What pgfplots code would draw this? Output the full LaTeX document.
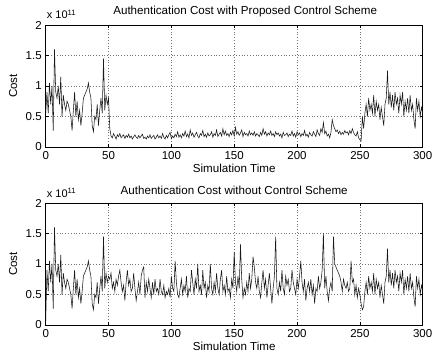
\documentclass[border=0pt]{standalone}
\usepackage{pgfplots}
\pgfplotsset{compat=1.18}
\usepackage{pgfplotstable}
\usepackage{fontspec}
\setmainfont{Liberation Sans}

\pgfplotstableread{
y
0.05
0.9
0.55
1.05
0.7
1.0
0.27
1.6
0.9
0.8
1.0
0.7
1.15
0.5
0.85
0.7
0.6
0.75
0.7
0.6
0.5
0.27
0.6
0.9
0.5
0.75
0.45
0.6
0.35
0.55
0.8
0.85
0.9
0.95
1.05
0.9
0.8
0.35
0.25
0.5
0.45
0.7
0.35
0.6
0.8
0.55
1.45
0.6
0.85
0.7
0.8
0.75
0.85
0.6
0.7
0.55
0.75
0.65
0.8
0.9
0.7
0.55
0.65
0.4
0.7
0.9
0.65
0.75
0.55
0.6
0.85
0.6
0.4
0.55
0.7
0.5
0.8
0.9
0.95
0.45
0.7
0.55
0.75
0.6
0.45
0.7
0.5
0.75
0.55
0.6
0.5
0.75
0.55
0.5
0.65
0.45
0.55
0.5
0.6
0.45
0.8
0.6
0.55
1.05
0.7
0.5
0.45
0.6
0.75
0.5
0.65
0.55
0.8
0.45
0.6
0.55
0.9
0.7
0.5
0.75
0.6
1.0
0.55
0.65
0.5
0.9
0.6
0.7
0.45
0.65
0.55
1.0
0.6
0.5
0.7
0.55
0.85
0.6
0.5
0.75
0.9
0.55
0.65
0.5
0.8
0.55
0.6
0.45
0.75
0.6
1.2
0.7
0.55
0.8
0.6
1.32
0.75
0.45
0.6
0.5
0.7
0.55
0.85
0.6
0.75
1.12
0.95
0.7
0.6
0.8
0.55
0.45
0.7
0.9
0.6
0.75
0.45
0.65
0.85
0.6
0.35
0.6
0.8
1.45
0.6
0.5
0.7
0.55
0.9
0.6
0.5
0.8
0.65
0.75
0.55
0.6
0.9
0.7
0.6
0.5
0.75
0.6
0.8
1.05
0.7
0.55
0.75
0.4
0.6
0.7
0.55
0.75
0.5
0.65
0.35
0.6
0.55
0.8
0.6
0.7
0.9
1.5
0.6
0.8
0.55
0.4
0.6
0.7
0.55
1.45
1.0
0.95
0.9
0.85
0.8
0.7
0.55
0.75
0.65
0.6
0.7
0.55
0.6
1.05
0.7
0.75
0.5
0.65
0.45
0.6
0.5
0.35
0.25
0.3
0.55
0.7
0.5
0.8
0.6
0.7
0.55
0.85
0.5
0.75
0.6
0.7
0.45
0.65
0.5
0.35
0.7
0.8
1.25
0.7
0.9
0.65
0.85
0.6
0.9
0.7
0.8
0.55
0.85
0.7
0.9
0.5
0.75
0.6
0.8
0.55
0.85
0.6
0.7
0.45
0.3
0.8
0.6
0.75
0.5
0.65
0.55
}\without

\pgfplotstableread{
y
0.55
0.9
0.55
1.05
0.7
1.0
0.27
1.6
0.9
0.8
1.0
0.7
1.15
0.5
0.85
0.7
0.6
0.75
0.7
0.6
0.5
0.27
0.6
0.9
0.5
0.75
0.45
0.6
0.35
0.55
0.8
0.85
0.9
0.95
1.05
0.9
0.8
0.35
0.25
0.5
0.45
0.7
0.35
0.6
0.8
0.55
1.45
0.6
0.85
0.7
0.8
0.3
0.18
0.15
0.22
0.18
0.13
0.2
0.17
0.22
0.15
0.18
0.2
0.14
0.19
0.16
0.21
0.15
0.18
0.13
0.17
0.2
0.16
0.14
0.19
0.15
0.18
0.21
0.14
0.16
0.13
0.18
0.15
0.2
0.14
0.17
0.19
0.13
0.16
0.2
0.15
0.18
0.14
0.22
0.16
0.13
0.19
0.15
0.2
0.24
0.14
0.18
0.15
0.21
0.17
0.25
0.16
0.2
0.15
0.22
0.18
0.26
0.17
0.21
0.15
0.28
0.19
0.23
0.16
0.2
0.24
0.18
0.15
0.22
0.19
0.27
0.17
0.21
0.16
0.23
0.18
0.2
0.25
0.16
0.22
0.19
0.28
0.17
0.21
0.24
0.18
0.3
0.2
0.26
0.19
0.22
0.17
0.24
0.2
0.27
0.18
0.32
0.21
0.25
0.19
0.23
0.28
0.17
0.24
0.2
0.22
0.18
0.26
0.2
0.23
0.19
0.25
0.18
0.22
0.2
0.17
0.24
0.19
0.3
0.21
0.25
0.18
0.23
0.2
0.26
0.19
0.22
0.17
0.25
0.2
0.23
0.18
0.21
0.15
0.24
0.19
0.2
0.23
0.17
0.21
0.19
0.26
0.18
0.22
0.16
0.25
0.2
0.23
0.17
0.22
0.19
0.27
0.18
0.21
0.16
0.24
0.2
0.18
0.25
0.21
0.17
0.28
0.22
0.19
0.3
0.24
0.4
0.22
0.26
0.18
0.21
0.15
0.24
0.45
0.35
0.3
0.25
0.28
0.22
0.26
0.2
0.24
0.21
0.27
0.23
0.25
0.2
0.27
0.22
0.3
0.24
0.2
0.18
0.25
0.15
0.12
0.1
0.5
0.3
0.55
0.7
0.5
0.8
0.6
0.7
0.55
0.85
0.5
0.75
0.6
0.7
0.45
0.65
0.5
0.35
0.7
0.8
1.25
0.7
0.9
0.65
0.85
0.6
0.9
0.7
0.8
0.55
0.85
0.7
0.9
0.5
0.75
0.6
0.8
0.55
0.85
0.6
0.7
0.45
0.3
0.8
0.6
0.75
0.5
0.65
0.55
}\withctrl

\pgfplotsset{
  mystyle/.style={
    scale only axis,
    width=377pt, height=122pt,
    anchor=south west,
    clip mode=individual,
    xmin=0, xmax=300, ymin=0, ymax=2,
    xtick={0,50,100,150,200,250,300},
    xticklabels={0,50,100,150,200,250,300},
    ytick={0,0.5,1,1.5,2},
    yticklabels={0,0.5,1,1.5,2},
    tick align=inside,
    major tick length=3pt,
    tick style={black, line width=0.5pt},
    grid=major,
    major grid style={black!55, line width=0.5pt, dash pattern=on 0.6pt off 2.2pt},
    axis line style={black, line width=0.6pt},
    ticklabel style={font=\fontsize{11.5}{13}\selectfont},
    xticklabel style={yshift=-1pt},
    yticklabel style={xshift=-0.5pt},
    every axis title/.style={at={(axis description cs:0.5,1)}, anchor=center, yshift=13pt, font=\fontsize{11.6}{13}\selectfont},
    every axis x label/.style={at={(axis description cs:0.5,0)}, anchor=center, yshift=-21pt, font=\fontsize{11.6}{13}\selectfont},
    every axis y label/.style={at={(axis description cs:-0.0867,0.5)}, anchor=center, rotate=90, font=\fontsize{11.6}{13}\selectfont},
    xlabel={Simulation Time},
    ylabel={Cost},
  }
}

\begin{document}
\begin{tikzpicture}
\path[use as bounding box] (-45.7pt,-206pt) rectangle (386.3pt,147pt);
\begin{axis}[mystyle, at={(0pt,0pt)},
  title={Authentication Cost with Proposed Control Scheme},
  title style={xshift=11pt}]
\addplot[black!90, line width=0.55pt, mark=none] table[x expr=\coordindex, y=y] {\withctrl};
\node[anchor=base west, font=\fontsize{11}{13}\selectfont, inner sep=0pt] at (rel axis cs:0,1) [xshift=1pt, yshift=6pt] {x 10\textsuperscript{11}};
\end{axis}
\begin{axis}[mystyle, at={(0pt,-178pt)},
  title={Authentication Cost without Control Scheme}]
\addplot[black!90, line width=0.55pt, mark=none] table[x expr=\coordindex, y=y] {\without};
\node[anchor=base west, font=\fontsize{11}{13}\selectfont, inner sep=0pt] at (rel axis cs:0,1) [xshift=1pt, yshift=6pt] {x 10\textsuperscript{11}};
\end{axis}
\end{tikzpicture}
\end{document}
